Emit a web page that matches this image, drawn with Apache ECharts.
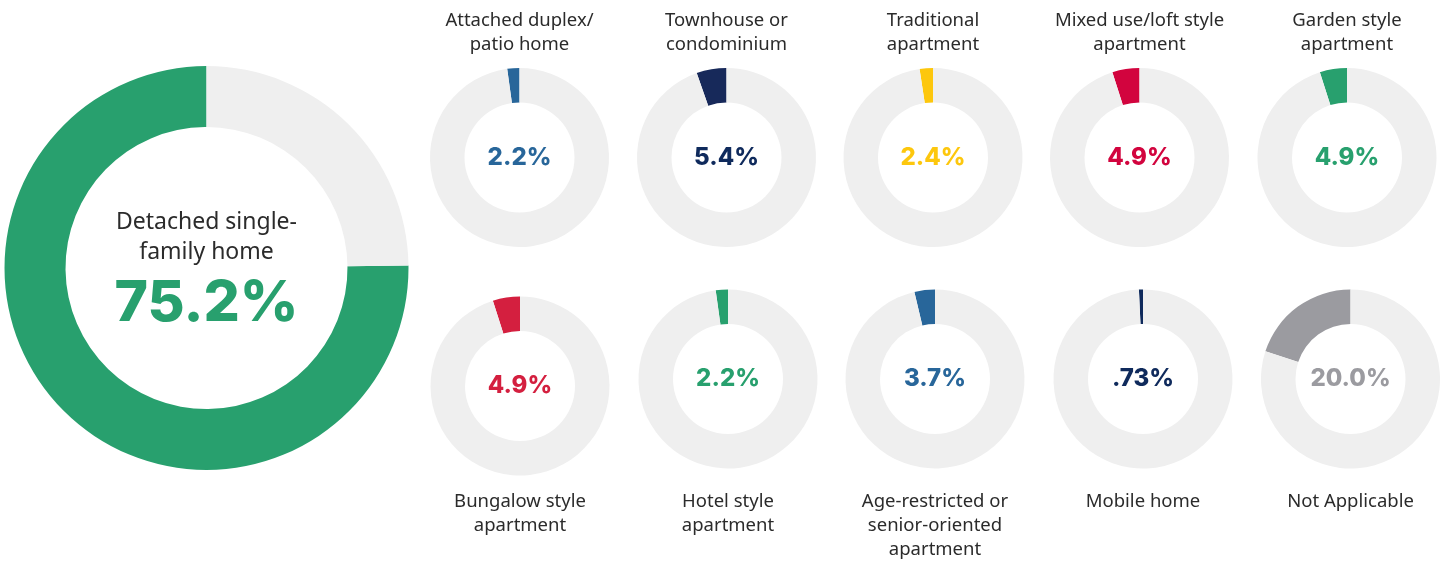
<!DOCTYPE html>
<html>
<head>
<meta charset="utf-8">
<script src="https://cdn.jsdelivr.net/npm/echarts@6/dist/echarts.min.js"></script>
<style>
  html, body { margin: 0; padding: 0; background: #ffffff; }
  #chart { width: 1449px; height: 561px; }
</style>
</head>
<body>
<div id="chart"></div>
<script>
// ---- data ----
const categories = [
  'Detached single-\nfamily home',
  'Attached duplex/\npatio home',
  'Townhouse or\ncondominium',
  'Traditional\napartment',
  'Mixed use/loft style\napartment',
  'Garden style\napartment',
  'Bungalow style\napartment',
  'Hotel style\napartment',
  'Age-restricted or\nsenior-oriented\napartment',
  'Mobile home',
  'Not Applicable'
];
const values = [75.2, 2.2, 5.4, 2.4, 4.9, 4.9, 4.9, 2.2, 3.7, 0.73, 20.0];
const segmentColors = ['#28a06e', '#28669a', '#17295a', '#fdc70d', '#d2043e', '#28a06e', '#d41f3f', '#28a06e', '#28669a', '#0f2a5c', '#9b9ba0'];
const textColors    = ['#28a06e', '#28669a', '#0f2a5c', '#fdc70d', '#d2043e', '#28a06e', '#d41f3f', '#28a06e', '#28669a', '#0f2a5c', '#9b9ba0'];
const trackColor = '#efefef';

// ---- layout (positions only, not data) ----
const layout = [
  { c: [206.5, 268], r: [141, 202], big: true },
  { c: [519.5, 157.5], r: [55, 89.5], labelY: 21 },
  { c: [726.5, 157.5], r: [55, 89.5], labelY: 21 },
  { c: [933, 157.5], r: [55, 89.5], labelY: 21 },
  { c: [1139.5, 157.5], r: [55, 89.5], labelY: 21 },
  { c: [1347, 157.5], r: [55, 89.5], labelY: 21 },
  { c: [520, 386], r: [55, 89.5], labelY: 502 },
  { c: [728, 379], r: [55, 89.5], labelY: 502 },
  { c: [935, 379], r: [55, 89.5], labelY: 502 },
  { c: [1143, 379], r: [55, 89.5], labelY: 502 },
  { c: [1350.5, 379], r: [55, 89.5], labelY: 502 }
];

function fmt(v) {
  if (v < 1) return v.toFixed(2).replace(/^0/, '') + '%';
  return v.toFixed(1) + '%';
}

const chart = echarts.init(document.getElementById('chart'), null, { renderer: 'canvas' });

const series = [];
const graphics = [];
values.forEach((v, i) => {
  const L = layout[i];
  series.push({
    type: 'pie',
    center: L.c,
    radius: L.r,
    startAngle: 90,
    clockwise: false,
    silent: true,
    animation: false,
    avoidLabelOverlap: false,
    labelLine: { show: false },
    data: [
      {
        value: v,
        name: categories[i],
        itemStyle: { color: segmentColors[i] },
        label: L.big ? { show: false } : {
          show: true,
          position: 'center',
          formatter: fmt(v),
          fontFamily: 'Inter',
          fontWeight: 800,
          fontSize: 24,
          color: textColors[i]
        }
      },
      {
        value: +(100 - v).toFixed(2),
        name: 'rest',
        itemStyle: { color: trackColor },
        label: { show: false }
      }
    ]
  });
  if (L.big) {
    graphics.push({
      type: 'text', x: L.c[0], y: 222 - 15, silent: true,
      style: {
        text: categories[i], textAlign: 'center', textVerticalAlign: 'top',
        fontFamily: 'Noto Sans', fontSize: 23, lineHeight: 30, fill: '#2b2b2b'
      }
    });
    graphics.push({
      type: 'text', x: L.c[0], y: 304, silent: true,
      style: {
        text: fmt(v), textAlign: 'center', textVerticalAlign: 'middle',
        fontFamily: 'Inter', fontWeight: 800, fontSize: 57, fill: textColors[i]
      }
    });
  } else {
    graphics.push({
      type: 'text', x: L.c[0], y: L.labelY - 12, silent: true,
      style: {
        text: categories[i], textAlign: 'center', textVerticalAlign: 'top',
        fontFamily: 'Noto Sans', fontSize: 18.5, lineHeight: 24, fill: '#2b2b2b'
      }
    });
  }
});

chart.setOption({
  backgroundColor: '#ffffff',
  animation: false,
  series: series,
  graphic: graphics
});
</script>
</body>
</html>
